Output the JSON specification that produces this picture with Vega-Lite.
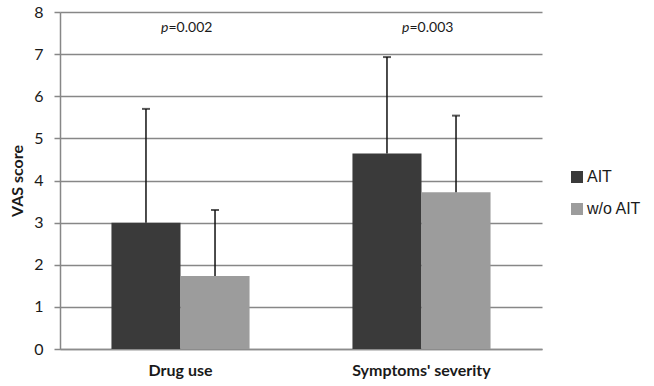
{
  "$schema": "https://vega.github.io/schema/vega-lite/v6.json",
  "width": 482,
  "height": 337,
  "autosize": "none",
  "padding": {"left": 60, "top": 12, "right": 112, "bottom": 37},
  "background": "white",
  "config": {"view": {"stroke": null}},
  "datasets": {
    "bars": [
      {"cat": "Drug use", "group": "AIT", "mean": 3.0, "upper": 5.7},
      {"cat": "Drug use", "group": "w/o AIT", "mean": 1.73, "upper": 3.3},
      {"cat": "Symptoms' severity", "group": "AIT", "mean": 4.64, "upper": 6.93},
      {"cat": "Symptoms' severity", "group": "w/o AIT", "mean": 3.72, "upper": 5.54}
    ],
    "pvals": [
      {"cat": "Drug use", "p": "p", "rest": "=0.002", "y": 7.62},
      {"cat": "Symptoms' severity", "p": "p", "rest": "=0.003", "y": 7.62}
    ]
  },
  "encoding": {
    "x": {
      "field": "cat", "type": "nominal", "sort": ["Drug use", "Symptoms' severity"],
      "scale": {"paddingInner": 0.427, "paddingOuter": 0.2135},
      "axis": {
        "title": null, "labelAngle": 0, "ticks": false, "domainColor": "#8c8c8c", "domainWidth": 1.5,
        "labelFont": "Lato", "labelFontSize": 16, "labelFontWeight": "bold", "labelColor": "#1a1a1a",
        "labelPadding": 13
      }
    }
  },
  "layer": [
    {
      "data": {"name": "bars"},
      "mark": {"type": "bar"},
      "encoding": {
        "xOffset": {"field": "group", "type": "nominal", "scale": {"paddingInner": 0, "paddingOuter": 0}},
        "y": {
          "field": "mean", "type": "quantitative",
          "scale": {"domain": [0, 8], "nice": false},
          "axis": {
            "title": "VAS score", "titleFont": "Lato", "titleFontSize": 16, "titleFontWeight": "bold",
            "titleColor": "#1a1a1a", "titlePadding": 8,
            "values": [0, 1, 2, 3, 4, 5, 6, 7, 8], "labelOverlap": false,
            "grid": true, "gridColor": "#878787", "gridWidth": 1.5,
            "domainColor": "#878787", "domainWidth": 1.5, "tickColor": "#878787", "tickWidth": 1.5, "tickSize": 6,
            "labelFont": "Lato", "labelFontSize": 16, "labelColor": "#1a1a1a", "labelPadding": 11
          }
        },
        "color": {
          "field": "group", "type": "nominal",
          "scale": {"domain": ["AIT", "w/o AIT"], "range": ["#3a3a3a", "#9c9c9c"]},
          "legend": {
            "title": null, "orient": "none", "legendX": 509, "legendY": 157,
            "symbolType": "square", "symbolSize": 144, "symbolStrokeWidth": 0,
            "labelFont": "Liberation Sans", "labelFontSize": 16, "labelColor": "#1a1a1a",
            "rowPadding": 16, "labelOffset": 2
          }
        }
      }
    },
    {
      "data": {"name": "bars"},
      "mark": {"type": "rule", "color": "#111111", "strokeWidth": 1.5},
      "encoding": {
        "xOffset": {"field": "group", "type": "nominal"},
        "y": {"field": "mean", "type": "quantitative"},
        "y2": {"field": "upper"}
      }
    },
    {
      "data": {"name": "bars"},
      "mark": {"type": "tick", "orient": "horizontal", "color": "#111111", "thickness": 2, "size": 8},
      "encoding": {
        "xOffset": {"field": "group", "type": "nominal"},
        "y": {"field": "upper", "type": "quantitative"}
      }
    },
    {
      "data": {"name": "pvals"},
      "mark": {"type": "text", "font": "Lato", "fontSize": 14, "fontStyle": "italic", "align": "right", "dx": -12, "color": "#1a1a1a"},
      "encoding": {
        "y": {"field": "y", "type": "quantitative"},
        "text": {"field": "p"}
      }
    },
    {
      "data": {"name": "pvals"},
      "mark": {"type": "text", "font": "Lato", "fontSize": 14, "align": "left", "dx": -12, "color": "#1a1a1a"},
      "encoding": {
        "y": {"field": "y", "type": "quantitative"},
        "text": {"field": "rest"}
      }
    }
  ]
}
